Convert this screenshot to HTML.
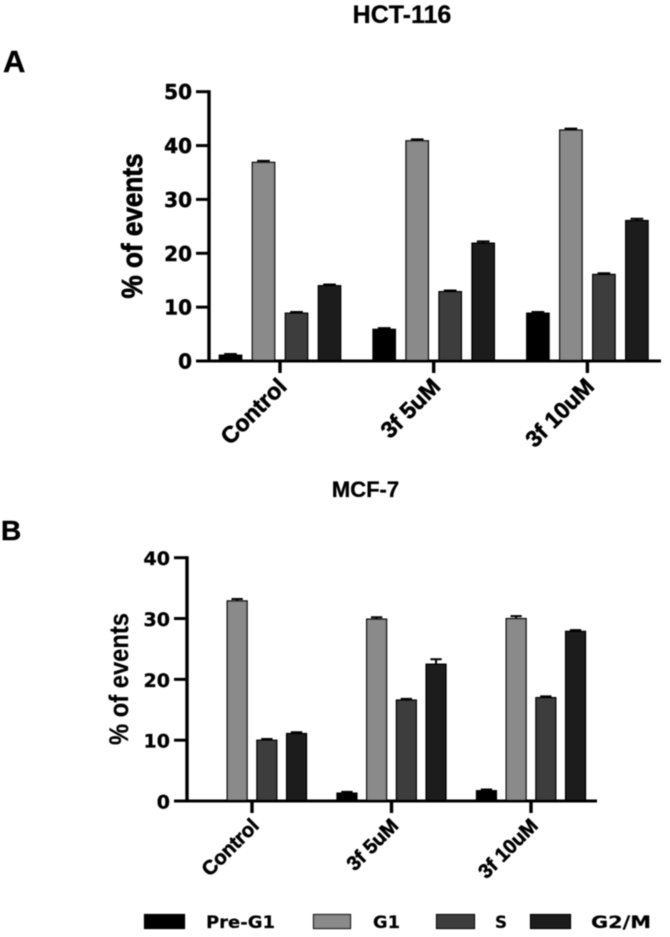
<!DOCTYPE html>
<html lang="en">
<head>
<meta charset="utf-8">
<title>Cell cycle distribution</title>
<style>
html,body{margin:0;padding:0;background:#fff;width:670px;height:937px;overflow:hidden}
svg{display:block}
text{fill:#000}
.num{font-family:"DejaVu Sans",sans-serif;font-weight:700;font-size:20px;stroke:#000;stroke-width:.45px}
.num-b{font-family:"DejaVu Sans",sans-serif;font-weight:700;font-size:19px;stroke:#000;stroke-width:.35px}
.cal{font-family:"Liberation Sans",sans-serif;font-weight:700}
.leg{font-family:"DejaVu Sans",sans-serif;font-weight:700;font-size:17px;stroke:#000;stroke-width:.2px}
</style>
</head>
<body>
<svg id="fig" xmlns="http://www.w3.org/2000/svg" width="670" height="937" viewBox="0 0 670 937">
  <defs><filter id="soft" x="-5%" y="-5%" width="110%" height="110%"><feGaussianBlur stdDeviation="0.5"/></filter></defs>
  <g id="root" filter="url(#soft)"></g>
</svg>
<script>
const categories = ["Control", "3f 5uM", "3f 10uM"];
const seriesNames = ["Pre-G1", "G1", "S", "G2/M"];
const hctPreG1 = [1.2, 6, 9];
const hctG1 = [37, 41, 43];
const hctS = [9, 13, 16.2];
const hctG2M = [14.1, 22, 26.2];
const hctPreG1Err = [0.1, 0.1, 0.1];
const hctG1Err = [0.15, 0.15, 0.15];
const hctSErr = [0.1, 0.1, 0.1];
const hctG2MErr = [0.1, 0.2, 0.2];
const mcfPreG1 = [0, 1.4, 1.8];
const mcfG1 = [33, 30, 30.1];
const mcfS = [10.1, 16.7, 17.1];
const mcfG2M = [11.2, 22.6, 28];
const mcfPreG1Err = [0, 0.1, 0.1];
const mcfG1Err = [0.2, 0.2, 0.3];
const mcfSErr = [0.1, 0.1, 0.1];
const mcfG2MErr = [0.1, 0.7, 0.1];
const hctTicks = [0, 10, 20, 30, 40, 50];
const mcfTicks = [0, 10, 20, 30, 40];

const NS = "http://www.w3.org/2000/svg";
const root = document.getElementById("root");
const fills = ["#000000", "#8a8a8a", "#3c3c3c", "#1d1d1d"];

function mk(tag, attrs, parent, txt) {
  const el = document.createElementNS(NS, tag);
  for (const k in attrs) el.setAttribute(k, attrs[k]);
  if (txt !== undefined) el.textContent = txt;
  (parent || root).appendChild(el);
  return el;
}

function drawChart(c) {
  const g = mk("g", {});
  
  
  const yMax = c.ticks[c.ticks.length - 1];
  const y = v => c.y0 - (v / yMax) * (c.y0 - c.yTop);
  const gx = i => c.firstCenter + i * c.groupStep;
  const bx = (i, s) => gx(i) + (s - 1.5) * c.barStep;

  c.series.forEach((vals, s) => {
    vals.forEach((v, i) => {
      if (v <= 0) return;
      const x = bx(i, s), top = y(v) + 0.7, w = c.barW;
      const err = c.errors[s][i];
      const eb = mk("path", {
        d: `M${x} ${top}V${y(v + err)}M${x - w * 0.27} ${y(v + err)}H${x + w * 0.27}`,
        stroke: "#000", "stroke-width": 2, fill: "none"
      }, g);
      
      
      const r = mk("rect", {
        x: x - w / 2 + 0.6, y: top, width: w - 1.2, height: c.y0 - top,
        fill: fills[s], stroke: "#000", "stroke-width": 1.4
      }, g);
      
      
    });
  });

  const yAxis = mk("line", { x1: c.x0, x2: c.x0, y1: c.yTop - 1.5, y2: c.y0 + 1.5, stroke: "#000", "stroke-width": 3.4 }, g);
  
  
  const xAxis = mk("line", { x1: c.x0 - 13, x2: c.xEnd, y1: c.y0, y2: c.y0, stroke: "#000", "stroke-width": 3 }, g);
  
  

  c.ticks.forEach(t => {
    const tk = mk("line", { x1: c.x0 - 13, x2: c.x0, y1: y(t), y2: y(t), stroke: "#000", "stroke-width": 3 }, g);
    
    
    const lb = mk("text", { x: c.x0 - 17, y: y(t) + 7.5, "text-anchor": "end", class: c.numClass }, g, String(t));
    
    
  });

  categories.forEach((name, i) => {
    const tk = mk("line", { x1: gx(i), x2: gx(i), y1: c.y0, y2: c.y0 + 12, stroke: "#000", "stroke-width": 3.4 }, g);
    
    
    const lx = gx(i) + c.catDx, ly = c.y0 + c.catDy;
    const lb = mk("text", {
      x: lx, y: ly, "text-anchor": "end", class: "cal", "font-size": c.catSize,
      stroke: "#000", "stroke-width": 0.6,
      transform: `rotate(-45 ${lx} ${ly})`
    }, g, name);
    
    
  });

  const yt = mk("text", {
    x: c.titleX, y: c.titleY, "text-anchor": "middle", class: "cal",
    "font-size": c.titleSize, stroke: "#000", "stroke-width": c.titleStroke,
    textLength: c.titleLen, lengthAdjust: "spacingAndGlyphs",
    transform: `rotate(-90 ${c.titleX} ${c.titleY})`
  }, g, "% of events");
  
  
}

drawChart({
  name: "hct-116-chart",
  series: [hctPreG1, hctG1, hctS, hctG2M],
  errors: [hctPreG1Err, hctG1Err, hctSErr, hctG2MErr],
  ticks: hctTicks, x0: 209, xEnd: 661, y0: 361, yTop: 91.7,
  firstCenter: 280, groupStep: 153.7, barStep: 33, barW: 23.5,
  numClass: "num", catSize: 23, catDx: 8, catDy: 27,
  titleX: 142, titleY: 226, titleSize: 29, titleLen: 145, titleStroke: 0.8
});
drawChart({
  name: "mcf-7-chart",
  series: [mcfPreG1, mcfG1, mcfS, mcfG2M],
  errors: [mcfPreG1Err, mcfG1Err, mcfSErr, mcfG2MErr],
  ticks: mcfTicks, x0: 187, xEnd: 597, y0: 801, yTop: 557.7,
  firstCenter: 252, groupStep: 139.5, barStep: 29.7, barW: 21,
  numClass: "num-b", catSize: 20, catDx: 8, catDy: 26,
  titleX: 128, titleY: 679, titleSize: 27, titleLen: 132, titleStroke: 0.2
});

[["HCT-116", 402, 23, 25, "chart-title-hct-116"],
 ["MCF-7", 365.5, 497, 22, "chart-title-mcf-7"]].forEach(t => {
  const el = mk("text", { x: t[1], y: t[2], "text-anchor": "middle", class: "cal", "font-size": t[3], stroke: "#000", "stroke-width": 0.3 }, root, t[0]);
  
  
});
[["A", 3, 72, 31, "panel-label-a"], ["B", 1, 540, 28, "panel-label-b"]].forEach(t => {
  const el = mk("text", { x: t[1], y: t[2], class: "cal", "font-size": t[3], stroke: "#000", "stroke-width": 0.4 }, root, t[0]);
  
  
});

const legendSwatchX = [144.5, 313.5, 436.5, 530.5];
const legendSwatchW = [40, 37, 38, 40];
const legendLabelX = [206, 373, 495, 591];
const legendLabelW = [69, 27, 12, 60];
seriesNames.forEach((n, s) => {
  const g = mk("g", {});
  
  
  const sw = mk("rect", { x: legendSwatchX[s], y: 914.5, width: legendSwatchW[s], height: 14, fill: fills[s], stroke: "#000", "stroke-width": 1.2 }, g);
  
  
  const tx = mk("text", { x: legendLabelX[s], y: 928, class: "leg", textLength: legendLabelW[s], lengthAdjust: "spacingAndGlyphs" }, g, n);
  
  
});
</script>
</body>
</html>
